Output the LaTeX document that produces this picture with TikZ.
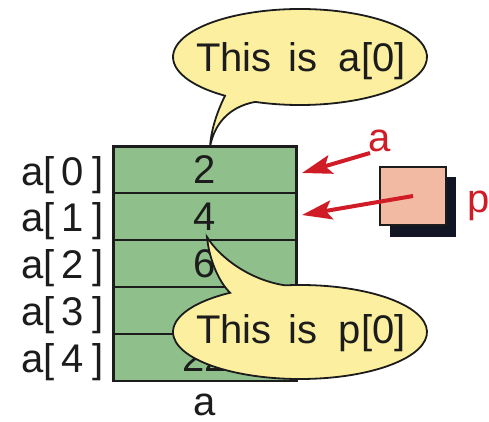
\documentclass[tikz,border=0pt]{standalone}
\usepackage{fontspec}
\setmainfont{Liberation Sans}
\usetikzlibrary{arrows.meta}
\definecolor{cellgreen}{RGB}{143,192,140}
\definecolor{bubbleyellow}{RGB}{252,240,160}
\definecolor{ptrpink}{RGB}{242,186,162}
\definecolor{ptrred}{RGB}{208,28,38}
\definecolor{shadowdark}{RGB}{18,22,36}
\definecolor{inkdark}{RGB}{28,28,28}
\tikzset{
  txt/.style={font=\fontsize{40}{48}\selectfont, text=inkdark, inner sep=0pt},
  cell/.style={txt, draw=inkdark, line width=2.6pt, fill=cellgreen,
               minimum width=183pt, minimum height=47pt},
  redtxt/.style={txt, text=ptrred},
  ptrarrow/.style={draw=ptrred, line width=4pt,
                   -{Stealth[length=30pt, width=19pt, inset=6pt]}},
  bubble/.style={fill=bubbleyellow, draw=inkdark, line width=1.8pt},
  ptrbox/.style={draw=inkdark, line width=1.8pt, fill=ptrpink,
                 minimum width=66pt, minimum height=58pt, inner sep=0pt},
  shadowbox/.style={fill=shadowdark, minimum width=66pt, minimum height=60pt, inner sep=0pt}
}
\newcommand{\idxlabel}[1]{a[\kern7pt#1\kern9pt]}
\begin{document}
\begin{tikzpicture}[x=1pt,y=-1pt]
\useasboundingbox (0,0) rectangle (489,422);

% array cells
\node[cell] (c0) at (205,170) {2};
\node[cell] (c1) at (205,216.5) {4};
\node[cell] (c2) at (205,263.5) {6};
\node[cell] (c3) at (205,310.5) {};
\node[cell] (c4) at (205,357.5) {22};

% index labels
\node[txt, anchor=base east] (l0) at (104,185)   {\idxlabel{0}};
\node[txt, anchor=base east] (l1) at (104,231.5) {\idxlabel{1}};
\node[txt, anchor=base east] (l2) at (104,278.5) {\idxlabel{2}};
\node[txt, anchor=base east] (l3) at (104,325.5) {\idxlabel{3}};
\node[txt, anchor=base east] (l4) at (104,372.5) {\idxlabel{4}};
\node[txt, anchor=base] (arrname) at (205,415) {a};

% pointer p with its shadow
\node[shadowbox] (pshadow) at (423,207) {};
\node[ptrbox] (pbox) at (413,196) {};
\node[redtxt, anchor=base] (plabel) at (479,212) {p};
\node[redtxt, anchor=base] (alabel) at (380,152) {a};

% arrows into the array
\coordinate (astart) at (370,153);
\coordinate (aend) at (302,173);
\coordinate (pend) at (302,215);
\draw[ptrarrow] (astart) -- (aend);
\draw[ptrarrow] (pbox.center) -- (pend);

% callout for a[0]
\coordinate (tipA) at (210,147);
\filldraw[bubble] (300,57) ++(110.7:127 and 48)
  arc[start angle=110.7, end angle=-233.8, x radius=127, y radius=48]
  .. controls (217,112) and (211,130) .. (tipA)
  .. controls (214,125) and (228,107) .. cycle;
\node[txt, anchor=base] (ta) at (301,72) {This\hspace{6pt} is\hspace{10pt} a[0]};

% callout for p[0]
\coordinate (tipP) at (207,237);
\filldraw[bubble] (300,332) ++(-96.8:127 and 47)
  arc[start angle=-96.8, end angle=236.6, x radius=127, y radius=47]
  .. controls (218,281) and (209,258) .. (tipP)
  .. controls (220,258) and (250,280) .. cycle;
\node[txt, anchor=base] (tp) at (301,343) {This\hspace{6pt} is\hspace{10pt} p[0]};
\end{tikzpicture}
\end{document}
